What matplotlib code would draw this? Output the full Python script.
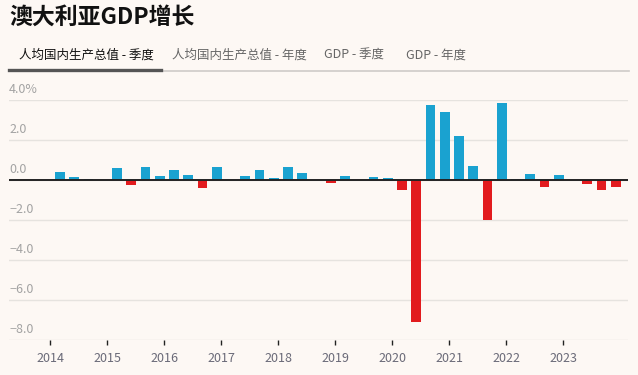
import matplotlib
matplotlib.use('Agg')
import matplotlib.pyplot as plt
from matplotlib.transforms import blended_transform_factory

plt.rcParams['font.family'] = ['Noto Sans CJK SC', 'DejaVu Sans']

# quarterly GDP per capita growth, %
years = list(range(2014, 2024))
quarters = [f'{y}Q{q}' for y in years for q in range(1, 5)]
growth = [0.42, 0.15, 0.07, 0.0,
          0.62, -0.25, 0.67, 0.22,
          0.52, 0.27, -0.40, 0.67,
          0.0, 0.22, 0.52, 0.12,
          0.67, 0.37, 0.0, -0.15,
          0.22, 0.0, 0.17, 0.12,
          -0.50, -7.08, 3.77, 3.42,
          2.22, 0.72, -2.00, 3.87,
          0.07, 0.32, -0.35, 0.27,
          0.0, -0.20, -0.50, -0.35]
yticks = [-8, -6, -4, -2, 0, 2, 4]
tabs = ['人均国内生产总值 - 季度', '人均国内生产总值 - 年度', 'GDP - 季度', 'GDP - 年度']

bg = '#fdf8f4'
blue = '#1aa2d0'
red = '#e21b1e'

W, H = 638, 375
fig = plt.figure(figsize=(W / 100, H / 100), dpi=100, facecolor=bg)
ax = fig.add_axes([9 / W, 35 / H, 619 / W, 240 / H], facecolor=bg)

pos = [int(q[:4]) + (int(q[-1]) - 1) / 4 + 0.175 for q in quarters]
cols = [blue if v >= 0 else red for v in growth]
ax.bar(pos, growth, width=0.175, color=cols, zorder=3)

ax.set_xlim(2013.28, 2024.14)
ax.set_ylim(-8, 4)

for t in yticks:
    ax.axhline(t, color='#e6e3df', lw=1, zorder=1)
ax.axhline(0, color='#222222', lw=1.4, zorder=4)

tr = blended_transform_factory(ax.transAxes, ax.transData)
for t in yticks:
    lab = f'{abs(t):.1f}'
    if t < 0:
        lab = '\u2212' + lab
    if t == 4:
        lab += '%'
    ax.text(0.0, t + 0.2, lab, transform=tr, ha='left', va='bottom',
            fontsize=9, color='#a3a3a3')

for s in ax.spines.values():
    s.set_visible(False)
ax.set_yticks([])
ax.set_xticks(years)
ax.set_xticklabels([str(y) for y in years], fontsize=9, color='#6a6a78')
ax.tick_params(axis='x', length=3.5, width=1, color='#222222', pad=5)

# title and tabs
fig.text(9 / W, 1 - 17 / H, '澳大利亚GDP增长', fontsize=16.5, fontweight='bold',
         color='#111111', ha='left', va='center')
tab_x = [19, 172, 324, 406]
for i, (lab, x) in enumerate(zip(tabs, tab_x)):
    fig.text(x / W, 1 - 55 / H, lab, fontsize=9, ha='left', va='center',
             color='#111111' if i == 0 else '#666666',
             fontweight='medium' if i == 0 else 'normal')
fig.add_artist(plt.Line2D([9 / W, 629 / W], [1 - 71 / H, 1 - 71 / H],
                          color='#cfcbc8', lw=1.2))
fig.add_artist(plt.Line2D([9 / W, 161 / W], [1 - 70 / H, 1 - 70 / H],
                          color='#555555', lw=2.4))

fig.savefig('out.png', dpi=100, facecolor=bg)
